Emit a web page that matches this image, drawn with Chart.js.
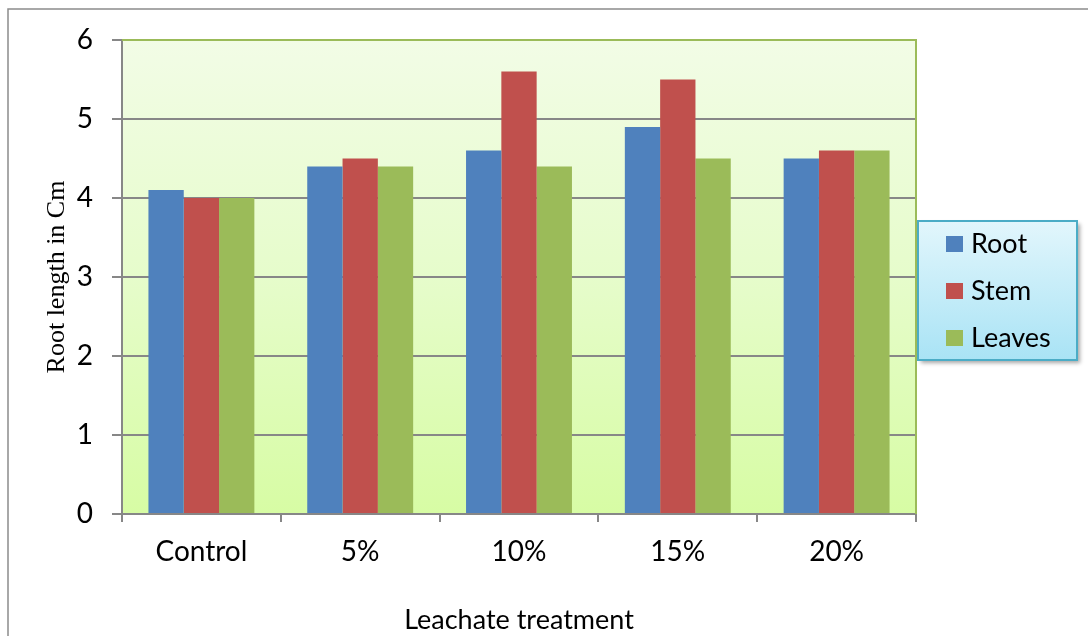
<!DOCTYPE html>
<html>
<head>
<meta charset="utf-8">
<title>Root length by leachate treatment</title>
<script src="https://cdn.jsdelivr.net/npm/chart.js@4/dist/chart.umd.min.js"></script>
<style>
    html, body { margin: 0; padding: 0; background: #fff; }
    canvas { display: block; }
</style>
</head>
<body>
<canvas id="barChart" width="1088" height="636"></canvas>
<script>
/*global Chart, document*/
'use strict';

// Data
var categories = ['Control', '5%', '10%', '15%', '20%'];
var rootValues = [4.1, 4.4, 4.6, 4.9, 4.5];
var stemValues = [4.0, 4.5, 5.6, 5.5, 4.6];
var leavesValues = [4.0, 4.4, 4.4, 4.5, 4.6];
var yTicks = [0, 1, 2, 3, 4, 5, 6];

// Colors
var rootColor = '#4f81bd';
var stemColor = '#c0504d';
var leavesColor = '#9bbb59';
var axisGray = '#878787';
var labelFont = 'Lato, "Open Sans", sans-serif';

// ------------------------------------------------------- //
// Frame, plot background and border
// ------------------------------------------------------ //
var chartDecor = {
    id: 'chartDecor',
    beforeDraw: function (chart) {
        var ctx = chart.ctx;
        var area = chart.chartArea;
        ctx.save();
        ctx.fillStyle = '#ffffff';
        ctx.fillRect(0, 0, chart.width, chart.height);

        // outer frame
        ctx.strokeStyle = '#8c8c8c';
        ctx.lineWidth = 1.5;
        ctx.strokeRect(8, 9, chart.width + 20, chart.height + 20);

        // plot area gradient
        var grad = ctx.createLinearGradient(0, area.top, 0, area.bottom);
        grad.addColorStop(0, '#f2fce6');
        grad.addColorStop(0.5, '#e6fccb');
        grad.addColorStop(1, '#d7fca4');
        ctx.fillStyle = grad;
        ctx.fillRect(area.left, area.top, area.right - area.left, area.bottom - area.top);
        ctx.restore();
    },
    afterDatasetsDraw: function (chart) {
        var ctx = chart.ctx;
        var area = chart.chartArea;
        ctx.save();
        ctx.strokeStyle = leavesColor;
        ctx.lineWidth = 2;
        ctx.beginPath();
        ctx.moveTo(area.left, area.top);
        ctx.lineTo(area.right, area.top);
        ctx.lineTo(area.right, area.bottom);
        ctx.stroke();
        ctx.restore();
    }
};

// ------------------------------------------------------- //
// Boxed legend on the right
// ------------------------------------------------------ //
var boxLegend = {
    id: 'boxLegend',
    afterDraw: function (chart) {
        var ctx = chart.ctx;
        var x = 918, y = 221, w = 159, h = 139;
        ctx.save();
        ctx.shadowColor = 'rgba(0, 0, 0, 0.35)';
        ctx.shadowOffsetX = 3;
        ctx.shadowOffsetY = 3;
        ctx.shadowBlur = 4;
        var grad = ctx.createLinearGradient(0, y, 0, y + h);
        grad.addColorStop(0, '#e2f6fc');
        grad.addColorStop(1, '#a9e3f5');
        ctx.fillStyle = grad;
        ctx.fillRect(x, y, w, h);
        ctx.shadowColor = 'transparent';
        ctx.strokeStyle = '#4bacc6';
        ctx.lineWidth = 2;
        ctx.strokeRect(x, y, w, h);

        ctx.font = '27px ' + labelFont;
        ctx.textBaseline = 'middle';
        ctx.textAlign = 'left';
        chart.data.datasets.forEach(function (ds, i) {
            var cy = y + 23 + i * 47;
            ctx.fillStyle = ds.backgroundColor;
            ctx.fillRect(x + 28, cy - 8, 17, 16);
            ctx.fillStyle = '#000';
            ctx.fillText(ds.label, x + 53, cy);
        });
        ctx.restore();
    }
};

// ------------------------------------------------------- //
// Bar Chart
// ------------------------------------------------------ //
var BARCHART = document.getElementById('barChart');
var myBarChart = new Chart(BARCHART, {
    type: 'bar',
    plugins: [chartDecor, boxLegend],
    data: {
        labels: categories,
        datasets: [
            {
                label: 'Root',
                backgroundColor: rootColor,
                borderWidth: 0,
                data: rootValues
            },
            {
                label: 'Stem',
                backgroundColor: stemColor,
                borderWidth: 0,
                data: stemValues
            },
            {
                label: 'Leaves',
                backgroundColor: leavesColor,
                borderWidth: 0,
                data: leavesValues
            }
        ]
    },
    options: {
        responsive: false,
        animation: false,
        devicePixelRatio: 1,
        categoryPercentage: 0.667,
        barPercentage: 1.0,
        layout: {
            padding: { left: 0, right: 172, top: 40, bottom: 0 }
        },
        plugins: {
            legend: { display: false },
            tooltip: { enabled: false }
        },
        scales: {
            x: {
                afterFit: function (scale) { scale.height = 122; },
                grid: {
                    offset: true,
                    drawOnChartArea: false,
                    tickLength: 8,
                    color: axisGray,
                    lineWidth: 2
                },
                border: { color: axisGray, width: 2 },
                ticks: {
                    color: '#000',
                    padding: 13,
                    font: { family: labelFont, size: 28 }
                },
                title: {
                    display: true,
                    text: 'Leachate treatment',
                    color: '#000',
                    padding: { top: 0, bottom: 0 },
                    font: { family: labelFont, size: 27 }
                }
            },
            y: {
                min: 0,
                max: 6,
                afterFit: function (scale) { scale.width = 122; },
                afterBuildTicks: function (scale) {
                    scale.ticks = yTicks.map(function (v) { return { value: v }; });
                },
                grid: {
                    tickLength: 10,
                    color: axisGray,
                    lineWidth: 2
                },
                border: { color: axisGray, width: 2 },
                ticks: {
                    color: '#000',
                    padding: 19,
                    font: { family: labelFont, size: 28 }
                },
                title: {
                    display: true,
                    text: 'Root length in Cm',
                    color: '#000',
                    padding: { top: 42, bottom: 0 },
                    font: { family: '"Liberation Serif", "Times New Roman", serif', size: 26 }
                }
            }
        }
    }
});
</script>
</body>
</html>
